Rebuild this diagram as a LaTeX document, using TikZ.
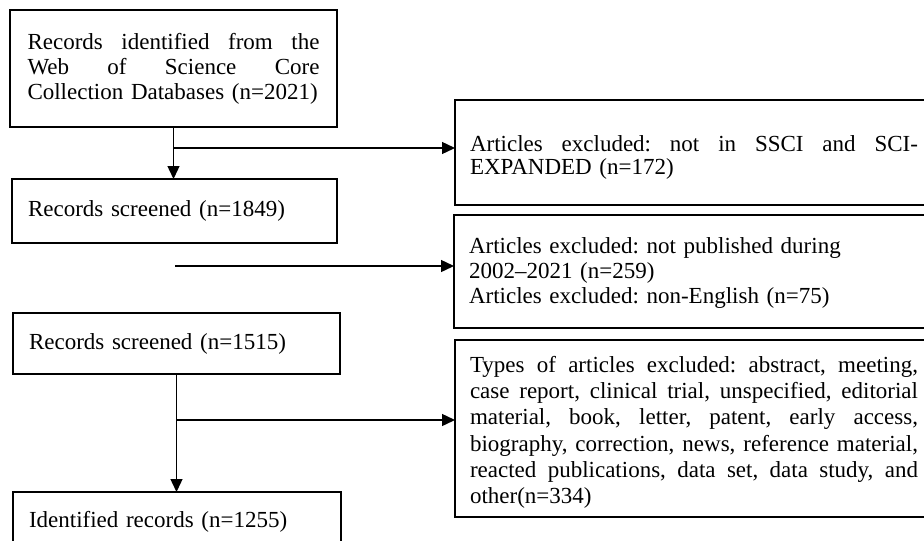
\documentclass[tikz,border=0pt]{standalone}
\usepackage{fontspec}
\setmainfont{Liberation Serif}
\usetikzlibrary{arrows.meta}
\setlength{\parindent}{0pt}
\frenchspacing
\newcommand{\jline}[2]{\leavevmode\hbox to #1{\spaceskip=\fontdimen2\font plus 1fil\relax #2}}
\begin{document}
\begin{tikzpicture}[x=1pt,y=-1pt,
  box/.style={draw, line width=1.7pt, anchor=north west, outer sep=0pt,
    inner ysep=0pt, align=left, font=\fontsize{23}{25}\selectfont\frenchspacing},
  flow/.style={line width=1.4pt, -{Triangle[length=13pt,width=12pt]}}]
\path[use as bounding box, fill=white] (0,0) rectangle (924,541);
\clip (0,0) rectangle (924,541);

\node[box, text width=292pt, inner xsep=17.5pt, minimum height=117pt] (A) at (10,10)
  {\jline{292pt}{Records identified from the}\\
   \jline{292pt}{Web of Science Core}\\
   Collection Databases (n=2021)};
\node[box, text width=293pt, inner xsep=16pt, minimum height=64pt] (B) at (12,179)
  {Records screened (n=1849)};
\node[box, text width=295pt, inner xsep=16pt, minimum height=61pt] (C) at (13,313)
  {Records screened (n=1515)};
\node[box, text width=296pt, inner xsep=16pt, minimum height=53pt] (D) at (13,492)
  {\rule{0pt}{22pt}Identified records (n=1255)};

\node[box, text width=448pt, inner xsep=15pt, minimum height=105pt,
  font=\fontsize{23}{23.5}\selectfont\frenchspacing] (E) at (455,100)
  {\jline{448pt}{\rule{0pt}{26pt}Articles excluded: not in SSCI and SCI-}\\
   EXPANDED (n=172)};
\node[box, text width=448pt, inner xsep=15pt, minimum height=113pt] (F) at (454,215)
  {\rule{0pt}{19pt}Articles excluded: not published during\\
   2002--2021 (n=259)\\
   Articles excluded: non-English (n=75)};
\node[box, text width=448pt, inner xsep=15pt, minimum height=177pt,
  font=\fontsize{23}{26.3}\selectfont\frenchspacing] (G) at (455,340)
  {\jline{448pt}{\rule{0pt}{24pt}Types of articles excluded: abstract, meeting,}\\
   \jline{448pt}{case report, clinical trial, unspecified, editorial}\\
   \jline{448pt}{material, book, letter, patent, early access,}\\
   \jline{448pt}{biography, correction, news, reference material,}\\
   \jline{448pt}{reacted publications, data set, data study, and}\\
   other(n=334)};

\draw[flow] (A.south) -- (A.south |- B.north);
\coordinate (j1) at (A.south |- 0,148);
\draw[flow] (j1) -- (j1 -| E.west);
\coordinate (s2) at (175,266);
\draw[flow] (s2) -- (s2 -| F.west);
\draw[flow] (C.south) -- (C.south |- D.north);
\coordinate (j3) at (C.south |- 0,420);
\draw[flow] (j3) -- (j3 -| G.west);
\end{tikzpicture}
\end{document}
